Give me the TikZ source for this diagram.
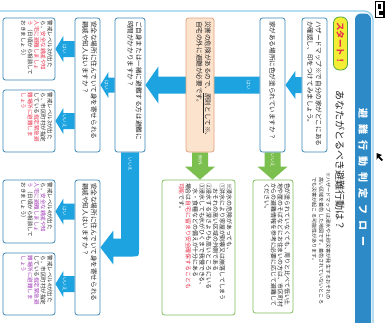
\documentclass[tikz,border=0pt]{standalone}
\usepackage{fontspec}
\newfontfamily\jp{Noto Sans CJK JP}
\usetikzlibrary{calc}
\pgfdeclarelayer{bg}
\pgfdeclarelayer{arr}
\pgfsetlayers{bg,arr,main}
\definecolor{frameblue}{HTML}{8CCBEA}
\definecolor{barblue}{HTML}{2D8AC7}
\definecolor{boxblue}{HTML}{3A87B8}
\definecolor{arrblue}{HTML}{1DA4E0}
\definecolor{arrgreen}{HTML}{7BBF4F}
\definecolor{boxgreen}{HTML}{7DBD5C}
\definecolor{orfill}{HTML}{FCE3CE}
\definecolor{ordraw}{HTML}{E2A27A}
\definecolor{pillyellow}{HTML}{F3EE35}
\definecolor{pillgreen}{HTML}{4FA83D}
\definecolor{txtred}{HTML}{E8344E}
\definecolor{txtpurple}{HTML}{A23DB8}
\definecolor{txt}{HTML}{262626}
\newcommand\hlred[1]{\textcolor{txtred}{#1}}
\newcommand\hlpur[1]{\textcolor{txtpurple}{#1}}
\newcommand\jtext[4]{\parbox[c][#2][#3]{#1}{\raggedright #4}}
% arrow pointing left in the picture: from node #1 (its left side) to node #2 (its right side)
\newcommand\hblockarr[6]{%
  \fill[#6] let \p1=(#1.south), \p2=(#2.north) in
   (\x1,\y2+#3) -- (\x2+#5,\y2+#3) -- (\x2+#5,\y2+#4) -- (\x2,\y2) --
   (\x2+#5,\y2-#4) -- (\x2+#5,\y2-#3) -- (\x1,\y2-#3) -- cycle;}
% arrow pointing down in the picture: from node #1 (its bottom) to node #2 (its top)
\newcommand\vblockarr[6]{%
  \fill[#6] let \p1=(#1.east), \p2=(#2.west) in
   (\x1+#3,\y1) -- (\x1+#3,\y2+#5) -- (\x1+#4,\y2+#5) -- (\x1,\y2) --
   (\x1-#4,\y2+#5) -- (\x1-#3,\y2+#5) -- (\x1-#3,\y1) -- cycle;}
\tikzset{
  qbox/.style={draw=boxblue, line width=0.8pt, rounded corners=2.5pt, fill=white,
    rotate=-90, inner sep=3pt, text=txt, font=\jp\fontsize{6.6}{8.5}\selectfont},
  gbox/.style={qbox, draw=boxgreen, font=\jp\fontsize{5.9}{6.8}\selectfont},
  obox/.style={qbox, draw=ordraw, fill=orfill},
  lvbox/.style={qbox, inner sep=2.5pt, font=\jp\fontsize{5.5}{6.6}\selectfont},
  lbl/.style={rotate=-90, text=white, inner sep=0pt, font=\jp\fontsize{4.6}{5}\selectfont},
}
\begin{document}
\begin{tikzpicture}[x=1pt,y=-1pt]
\useasboundingbox (0,0) rectangle (385,322);
\begin{pgfonlayer}{bg}
  \fill[white] (0,0) rectangle (385,322);
  \draw[frameblue, line width=1.3pt, rounded corners=9pt] (-20,11) rectangle (373,345);
  \fill[barblue, rounded corners=6pt] (355,13.5) rectangle (371,345);
  % page marks outside the frame
  \draw[black, line width=1.5pt] (375.5,1.5) rectangle (384,17.5);
  \fill[black] (377.5,4) rectangle (380.5,8.5);
  \fill[black] (379,10.5) rectangle (382.5,15);
  \fill[black] (376.5,153) -- (382,155) -- (379.5,156.5) -- (383,160) -- (381.5,161) -- (378,157.5) -- (376.5,160) -- cycle;
\end{pgfonlayer}

% title and heading
\node[rotate=-90, text=white, inner sep=0pt, font=\jp\bfseries\fontsize{10}{12}\selectfont] (title) at (363,177)
  {避\hspace{6pt}難\hspace{6pt}行\hspace{6pt}動\hspace{6pt}判\hspace{6pt}定\hspace{6pt}フ\hspace{6pt}ロ\hspace{6pt}ー};
\node[rotate=-90, draw=pillgreen, fill=pillyellow, line width=0.8pt, rounded corners=6pt,
  minimum width=53pt, minimum height=14pt, inner sep=0pt, text=txtred,
  font=\jp\bfseries\fontsize{8.5}{9}\selectfont] (start) at (340.5,43.5) {スタート！};
\node[rotate=-90, anchor=west, inner sep=0pt, text=txt, font=\jp\fontsize{10}{12}\selectfont] (sub) at (340,90)
  {あなたがとるべき避難行動は？};
\node[rotate=-90, anchor=north west, inner sep=0pt, text=txt, align=left,
  font=\jp\fontsize{5.1}{7}\selectfont] (note) at (331,172)
  {※ハザードマップは浸水や土砂災害が発生するおそれの\\\hspace*{1em}高い区域を着色した地図です。着色されていないところ\\\hspace*{1em}でも災害が起こる可能性があります。};

% boxes
\node[qbox] (b1) at (314.5,85) {\jtext{128pt}{19pt}{c}{ハザードマップ※で自分の家がどこにある\\か確認し、印をつけてみましょう。}};
\node[qbox] (b2) at (272.5,85) {\jtext{128pt}{19pt}{c}{家がある場所に色が塗られていますか？}};
\node[gbox] (gA) at (273,246.5) {\jtext{127pt}{34pt}{t}{色が塗られていなくても、周りと比べて低い土\\地や崖のそばなどにお住まいの方は、市区町村\\からの避難情報を参考に必要に応じて避難して\\ください。}};
\node[obox] (b3) at (200,85) {\jtext{128pt}{22pt}{t}{災害の危険があるので、\underline{原則として※}、\\自宅の外に避難が必要です。}};
\node[gbox] (gB) at (198.5,247.5) {\jtext{129pt}{67pt}{t}{※浸水の危険があっても、\\①洪水により家屋が倒壊又は崩落してしまう\\\hspace*{1em}おそれの高い区域の外側である\\②浸水する深さよりも高いところにいる\\③浸水しても水がひくまで我慢できる、\\\hspace*{1em}水・食糧などの備えが十分にある\\場合は\hlred{自宅に留まり安全確保することも}\\\hlred{可能}です。}};
\node[qbox] (b5) at (130,85) {\jtext{128pt}{24pt}{t}{ご自身または一緒に避難する方は避難に\\時間がかかりますか？}};
\node[qbox] (b6a) at (87.5,85) {\jtext{128pt}{19pt}{t}{安全な場所に住んでいて身を寄せられる\\親戚や知人はいますか？}};
\node[qbox] (b6b) at (87.5,247.5) {\jtext{129pt}{19pt}{t}{安全な場所に住んでいて身を寄せられる\\親戚や知人はいますか？}};
\node[lvbox] (b7a) at (29,49) {\jtext{57pt}{47pt}{t}{警戒レベル3が出た\\ら、\hlred{安全な親戚や知}\\\hlred{人宅に避難しましょ}\\\hlred{う}（日頃から相談して\\おきましょう）}};
\node[lvbox] (b7b) at (29,121) {\jtext{57pt}{47pt}{t}{警戒レベル3が出た\\ら、市区町村が指定\\している\hlred{指定緊急避}\\\hlred{難場所に避難しま}\\\hlred{しょう}}};
\node[lvbox] (b7c) at (29,211.5) {\jtext{58pt}{47pt}{t}{警戒レベル4が出た\\ら、\hlpur{安全な親戚や知}\\\hlpur{人宅に避難しましょ}\\\hlpur{う}（日頃から相談して\\おきましょう）}};
\node[lvbox] (b7d) at (29,284) {\jtext{57pt}{47pt}{t}{警戒レベル4が出た\\ら、市区町村が指定\\している\hlpur{指定緊急避}\\\hlpur{難場所に避難しま}\\\hlpur{しょう}}};

% connectors
\begin{pgfonlayer}{arr}
  \hblockarr{b1}{b2}{8pt}{14pt}{10pt}{arrblue}
  \hblockarr{b2}{b5}{8.5pt}{18.5pt}{13pt}{arrblue}
  \vblockarr{b2}{gA}{8pt}{15pt}{13pt}{arrgreen}
  \vblockarr{b3}{gB}{8pt}{15pt}{13pt}{arrgreen}
  \hblockarr{b5}{b6a}{7.5pt}{13pt}{8pt}{arrblue}
  \fill[arrblue] let \p1=(b5.east), \p2=(b6b.north) in
    (\x1-9pt,\y1) -- (\x1+9pt,\y1) -- (\x1+9pt,\y2-2pt)
    .. controls (\x1+9pt,\y2-9pt) .. (\x1+2pt,\y2-9pt)
    -- (\x2+13pt,\y2-9pt) -- (\x2+13pt,\y2-17pt) -- (\x2,\y2) -- (\x2+13pt,\y2+17pt)
    -- (\x2+13pt,\y2+9pt) -- (\x1-9pt,\y2+9pt) -- cycle;
  \hblockarr{b6a}{b7a}{8pt}{13pt}{8pt}{arrblue}
  \hblockarr{b6a}{b7b}{8pt}{13pt}{8pt}{arrblue}
  \hblockarr{b6b}{b7c}{8pt}{13pt}{8pt}{arrblue}
  \hblockarr{b6b}{b7d}{8pt}{13pt}{8pt}{arrblue}
\end{pgfonlayer}

% connector labels
\node[lbl] (ly1) at ($(b2.south)+(-11,0)$) {はい};
\node[lbl] (ln1) at ($(b2.east)+(0,8)$) {いいえ};
\node[lbl] (lx1) at ($(b3.east)+(0,8)$) {例外};
\node[lbl] (ly2) at ($(b5.south)+(-8,0)$) {はい};
\node[lbl] (ln2) at ($(b5.east)+(0,12)$) {いいえ};
\node[lbl] (ly3) at ($(b6a.south |- b7a.north)+(-10,0)$) {はい};
\node[lbl] (ln3) at ($(b6a.south |- b7b.north)+(-10,0)$) {いいえ};
\node[lbl] (ly4) at ($(b6b.south |- b7c.north)+(-10,0)$) {はい};
\node[lbl] (ln4) at ($(b6b.south |- b7d.north)+(-10,0)$) {いいえ};
\end{tikzpicture}
\end{document}
